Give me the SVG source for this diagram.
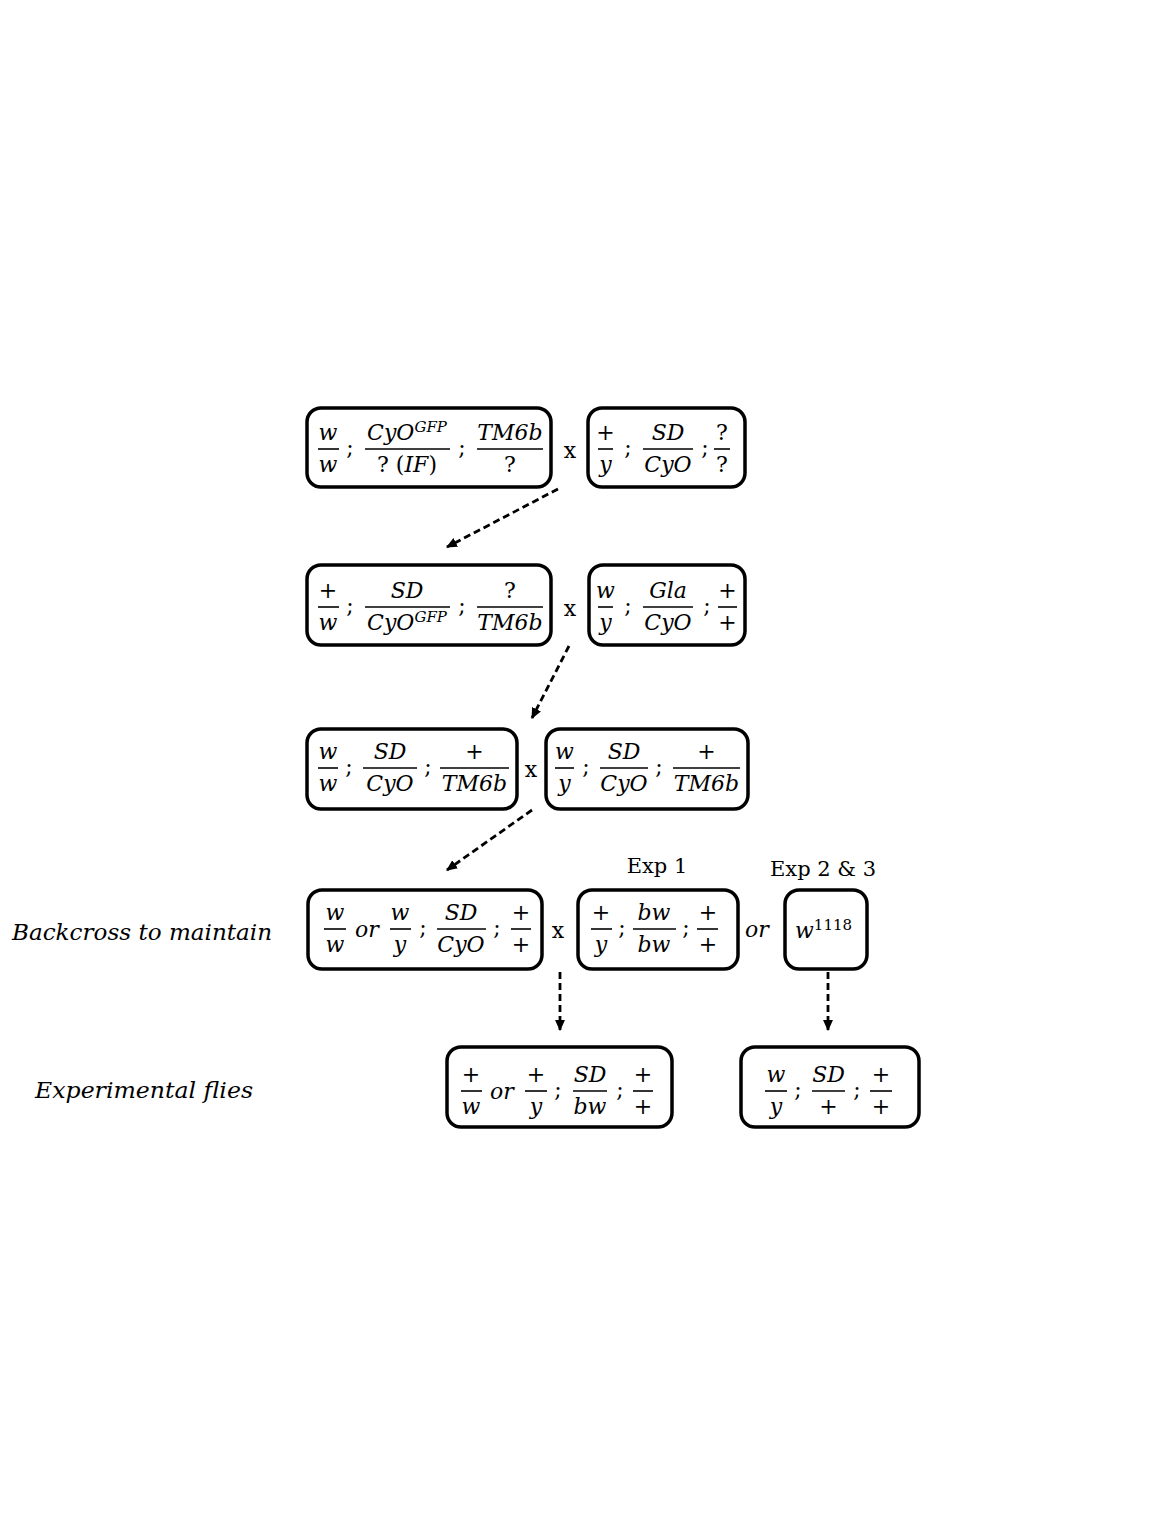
<svg xmlns="http://www.w3.org/2000/svg" width="1152" height="1536" viewBox="0 0 1152 1536">
<defs>
<style>
.m{font-family:"DejaVu Serif",serif;font-style:italic;font-size:22px;text-anchor:middle;fill:#000}
.u{font-family:"DejaVu Serif",serif;font-style:normal;font-size:22px;text-anchor:middle;fill:#000}
.sup{font-size:15px}
.lbl{font-family:"DejaVu Serif",serif;font-style:italic;font-size:23px;fill:#000}
.box{fill:none;stroke:#000;stroke-width:3.5}
.bar{stroke:#000;stroke-width:1.6}
.conn{fill:none;stroke:#000;stroke-width:2.8;stroke-dasharray:7 4;marker-end:url(#ah)}
</style>
<marker id="ah" viewBox="0 0 10 10" refX="9" refY="5" markerWidth="11" markerHeight="11" markerUnits="userSpaceOnUse" orient="auto">
<path d="M0,0.5 L10,5 L0,9.5 Z" fill="#000"/>
</marker>
</defs>
<rect width="1152" height="1536" fill="#fff"/>

<g id="connectors">
<path class="conn" d="M558,489 L447,547"/>
<path class="conn" d="M569,646 L532,718"/>
<path class="conn" d="M532,810 L447,870"/>
<path class="conn" d="M560,972 L560,1030"/>
<path class="conn" d="M828,972 L828,1030"/>
</g>

<g id="labels">
<text class="lbl" x="12" y="940" textLength="260" lengthAdjust="spacingAndGlyphs">Backcross to maintain</text>
<text class="lbl" x="35" y="1098" textLength="218" lengthAdjust="spacingAndGlyphs">Experimental flies</text>
<text class="u" x="657" y="873" style="font-size:21px">Exp 1</text>
<text class="u" x="823" y="876" style="font-size:21px">Exp 2 &amp; 3</text>
</g>

<!-- Row 1 -->
<g id="r1a">
<rect class="box" x="307" y="408" width="244" height="79" rx="14"/>
<text class="m" x="328" y="440">w</text><line class="bar" x1="318" y1="449" x2="339" y2="449"/><text class="m" x="328" y="472">w</text>
<text class="u" x="350" y="455">;</text>
<text class="m" x="407" y="440">CyO<tspan class="sup" dy="-8">GFP</tspan></text><line class="bar" x1="365" y1="449" x2="450" y2="449"/><text class="u" x="407" y="472">? (<tspan font-style="italic">IF</tspan>)</text>
<text class="u" x="462" y="455">;</text>
<text class="m" x="510" y="440">TM6b</text><line class="bar" x1="477" y1="449" x2="543" y2="449"/><text class="u" x="510" y="472">?</text>
</g>
<text class="u" x="570" y="458">x</text>
<g id="r1b">
<rect class="box" x="588" y="408" width="157" height="79" rx="14"/>
<text class="u" x="605.5" y="440">+</text><line class="bar" x1="598" y1="449" x2="613" y2="449"/><text class="m" x="605.5" y="472">y</text>
<text class="u" x="628" y="455">;</text>
<text class="m" x="668" y="440">SD</text><line class="bar" x1="643" y1="449" x2="693" y2="449"/><text class="m" x="668" y="472">CyO</text>
<text class="u" x="705" y="455">;</text>
<text class="u" x="722" y="440">?</text><line class="bar" x1="714" y1="449" x2="730" y2="449"/><text class="u" x="722" y="472">?</text>
</g>

<!-- Row 2 -->
<g id="r2a">
<rect class="box" x="307" y="565" width="244" height="80" rx="14"/>
<text class="u" x="328" y="598">+</text><line class="bar" x1="318" y1="607" x2="339" y2="607"/><text class="m" x="328" y="630">w</text>
<text class="u" x="350" y="613">;</text>
<text class="m" x="407" y="598">SD</text><line class="bar" x1="365" y1="607" x2="450" y2="607"/><text class="m" x="407" y="630">CyO<tspan class="sup" dy="-8">GFP</tspan></text>
<text class="u" x="462" y="613">;</text>
<text class="u" x="510" y="598">?</text><line class="bar" x1="477" y1="607" x2="543" y2="607"/><text class="m" x="510" y="630">TM6b</text>
</g>
<text class="u" x="570" y="616">x</text>
<g id="r2b">
<rect class="box" x="589" y="565" width="156" height="80" rx="14"/>
<text class="m" x="605.5" y="598">w</text><line class="bar" x1="598" y1="607" x2="613" y2="607"/><text class="m" x="605.5" y="630">y</text>
<text class="u" x="628" y="613">;</text>
<text class="m" x="668" y="598">Gla</text><line class="bar" x1="643" y1="607" x2="693" y2="607"/><text class="m" x="668" y="630">CyO</text>
<text class="u" x="707" y="613">;</text>
<text class="u" x="727.5" y="598">+</text><line class="bar" x1="718" y1="607" x2="737" y2="607"/><text class="u" x="727.5" y="630">+</text>
</g>

<!-- Row 3 -->
<g id="r3a">
<rect class="box" x="307" y="729" width="210" height="80" rx="14"/>
<text class="m" x="328" y="759">w</text><line class="bar" x1="318" y1="768" x2="338" y2="768"/><text class="m" x="328" y="791">w</text>
<text class="u" x="349" y="774">;</text>
<text class="m" x="390" y="759">SD</text><line class="bar" x1="363" y1="768" x2="417" y2="768"/><text class="m" x="390" y="791">CyO</text>
<text class="u" x="428" y="774">;</text>
<text class="u" x="474.5" y="759">+</text><line class="bar" x1="440" y1="768" x2="509" y2="768"/><text class="m" x="474.5" y="791">TM6b</text>
</g>
<text class="u" x="531" y="777">x</text>
<g id="r3b">
<rect class="box" x="546" y="729" width="202" height="80" rx="14"/>
<text class="m" x="564.5" y="759">w</text><line class="bar" x1="555" y1="768" x2="574" y2="768"/><text class="m" x="564.5" y="791">y</text>
<text class="u" x="586" y="774">;</text>
<text class="m" x="624" y="759">SD</text><line class="bar" x1="600" y1="768" x2="648" y2="768"/><text class="m" x="624" y="791">CyO</text>
<text class="u" x="659" y="774">;</text>
<text class="u" x="706.5" y="759">+</text><line class="bar" x1="673" y1="768" x2="740" y2="768"/><text class="m" x="706.5" y="791">TM6b</text>
</g>

<!-- Row 4 -->
<g id="r4a">
<rect class="box" x="308" y="890" width="234" height="79" rx="14"/>
<text class="m" x="335" y="920">w</text><line class="bar" x1="324" y1="929" x2="346" y2="929"/><text class="m" x="335" y="952">w</text>
<text class="m" x="367" y="937">or</text>
<text class="m" x="400" y="920">w</text><line class="bar" x1="390" y1="929" x2="411" y2="929"/><text class="m" x="400" y="952">y</text>
<text class="u" x="423" y="935">;</text>
<text class="m" x="461" y="920">SD</text><line class="bar" x1="437" y1="929" x2="486" y2="929"/><text class="m" x="461" y="952">CyO</text>
<text class="u" x="497" y="935">;</text>
<text class="u" x="521" y="920">+</text><line class="bar" x1="511" y1="929" x2="531" y2="929"/><text class="u" x="521" y="952">+</text>
</g>
<text class="u" x="558" y="938">x</text>
<g id="r4b">
<rect class="box" x="578" y="890" width="160" height="79" rx="14"/>
<text class="u" x="601" y="920">+</text><line class="bar" x1="591" y1="929" x2="612" y2="929"/><text class="m" x="601" y="952">y</text>
<text class="u" x="622" y="935">;</text>
<text class="m" x="654" y="920">bw</text><line class="bar" x1="633" y1="929" x2="676" y2="929"/><text class="m" x="654" y="952">bw</text>
<text class="u" x="686" y="935">;</text>
<text class="u" x="708" y="920">+</text><line class="bar" x1="697" y1="929" x2="718" y2="929"/><text class="u" x="708" y="952">+</text>
</g>
<text class="m" x="757" y="937">or</text>
<g id="r4c">
<rect class="box" x="785" y="890" width="82" height="79" rx="14"/>
<text class="m" x="795" y="938" style="text-anchor:start">w<tspan class="sup" font-style="normal" dy="-8">1118</tspan></text>
</g>

<!-- Row 5 -->
<g id="r5a">
<rect class="box" x="447" y="1047" width="225" height="80" rx="14"/>
<text class="u" x="471" y="1082">+</text><line class="bar" x1="461" y1="1091" x2="482" y2="1091"/><text class="m" x="471" y="1114">w</text>
<text class="m" x="502" y="1099">or</text>
<text class="u" x="536" y="1082">+</text><line class="bar" x1="525" y1="1091" x2="547" y2="1091"/><text class="m" x="536" y="1114">y</text>
<text class="u" x="558" y="1097">;</text>
<text class="m" x="590" y="1082">SD</text><line class="bar" x1="573" y1="1091" x2="607" y2="1091"/><text class="m" x="590" y="1114">bw</text>
<text class="u" x="620" y="1097">;</text>
<text class="u" x="643" y="1082">+</text><line class="bar" x1="633" y1="1091" x2="653" y2="1091"/><text class="u" x="643" y="1114">+</text>
</g>
<g id="r5b">
<rect class="box" x="741" y="1047" width="178" height="80" rx="14"/>
<text class="m" x="776" y="1082">w</text><line class="bar" x1="765" y1="1091" x2="787" y2="1091"/><text class="m" x="776" y="1114">y</text>
<text class="u" x="798" y="1097">;</text>
<text class="m" x="828.5" y="1082">SD</text><line class="bar" x1="812" y1="1091" x2="845" y2="1091"/><text class="u" x="828.5" y="1114">+</text>
<text class="u" x="857" y="1097">;</text>
<text class="u" x="881" y="1082">+</text><line class="bar" x1="870" y1="1091" x2="892" y2="1091"/><text class="u" x="881" y="1114">+</text>
</g>
</svg>
